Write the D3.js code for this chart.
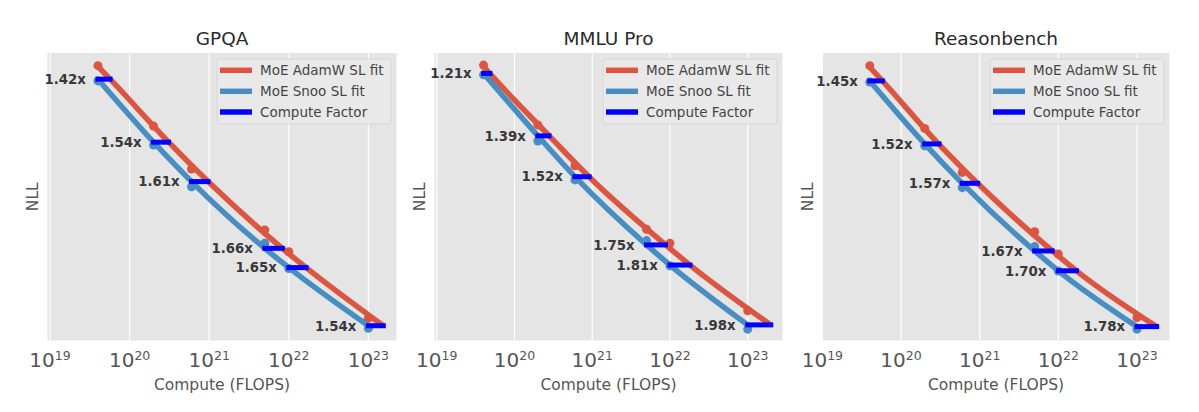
<!DOCTYPE html>
<html>
<head>
<meta charset="utf-8">
<script src="https://cdn.jsdelivr.net/npm/d3@7"></script>
<style>
  body { margin: 0; background: #fff; }
  text { font-family: "DejaVu Sans", sans-serif; }
</style>
</head>
<body>
<div id="chart"></div>
<script>
// values (NLL axis has no labels, so the scale is arbitrary)
const benchmarks = ['GPQA', 'MMLU Pro', 'Reasonbench']
const computeFlops = [4e19, 2e20, 6e20, 5e21, 1e22, 1e23]

const adamwNll = [
  [1.856, 1.646, 1.497, 1.285, 1.209, 0.978],
  [1.858, 1.650, 1.508, 1.287, 1.239, 1.004],
  [1.856, 1.638, 1.485, 1.279, 1.201, 0.980]
]
const snooNll = [
  [1.803, 1.580, 1.435, 1.239, 1.151, 0.943],
  [1.824, 1.594, 1.459, 1.248, 1.160, 0.940],
  [1.799, 1.577, 1.432, 1.227, 1.142, 0.940]
]
// Snoo fit, sampled at the measured compute values
const snooFitNll = [
  [1.809, 1.590, 1.453, 1.221, 1.154, 0.952],
  [1.829, 1.612, 1.470, 1.233, 1.163, 0.955],
  [1.803, 1.584, 1.447, 1.212, 1.143, 0.949]
]
// AdamW fit, sampled where it is crossed by the compute factor bars
const adamwFitCompute = [
  [4e19, 5.7e19, 3.1e20, 9.7e20, 8.3e21, 1.65e22, 1.54e23],
  [4e19, 4.8e19, 2.8e20, 9.1e20, 8.8e21, 1.81e22, 1.98e23],
  [4e19, 5.8e19, 3.0e20, 9.4e20, 8.4e21, 1.7e22, 1.78e23]
]
const adamwFitNll = [
  [1.853, 1.809, 1.590, 1.453, 1.221, 1.154, 0.952],
  [1.853, 1.829, 1.612, 1.470, 1.233, 1.163, 0.955],
  [1.851, 1.803, 1.584, 1.447, 1.212, 1.143, 0.949]
]
const computeFactors = [
  [1.42, 1.54, 1.61, 1.66, 1.65, 1.54],
  [1.21, 1.39, 1.52, 1.75, 1.81, 1.98],
  [1.45, 1.52, 1.57, 1.67, 1.70, 1.78]
]
const xTickExponents = [19, 20, 21, 22, 23]
const legendLabels = ['MoE AdamW SL fit', 'MoE Snoo SL fit', 'Compute Factor']

// layout
const W = 1199
const H = 412
const plotTop = 52.5
const plotBottom = 341
const panels = [
  { left: 47, width: 350, xMin: 18.962, xMax: 23.36 },
  { left: 434, width: 349, xMin: 18.965, xMax: 23.454 },
  { left: 822, width: 348, xMin: 18.995, xMax: 23.42 }
]
const red = '#DC5540'
const blue = '#488EC2'
const barBlue = '#0000FF'

const svg = d3.select('#chart')
  .append('svg')
  .attr('width', W)
  .attr('height', H)

const yScale = d3.scaleLinear()
  .domain([0.9, 1.9])
  .range([340.7, 53])

panels.forEach((p, i) => {
  const g = svg.append('g')
    .attr('transform', 'translate(' + p.left + ',0)')

  const xScale = d3.scaleLog()
    .domain([Math.pow(10, p.xMin), Math.pow(10, p.xMax)])
    .range([0, p.width])

  // background
  g.append('rect')
    .attr('x', 0)
    .attr('y', plotTop)
    .attr('width', p.width)
    .attr('height', plotBottom - plotTop)
    .attr('fill', '#E5E5E5')
    .attr('stroke', '#fff')
    .attr('stroke-width', 1)

  // grid
  g.selectAll('.grid')
    .data(xTickExponents)
    .enter().append('line')
    .attr('class', 'grid')
    .attr('x1', d => xScale(Math.pow(10, d)))
    .attr('x2', d => xScale(Math.pow(10, d)))
    .attr('y1', plotTop)
    .attr('y2', plotBottom)
    .attr('stroke', '#fff')
    .attr('stroke-width', 1.2)

  // tick labels
  const ticks = g.selectAll('.tick')
    .data(xTickExponents)
    .enter().append('text')
    .attr('class', 'tick')
    .attr('x', d => xScale(Math.pow(10, d)))
    .attr('y', 367.3)
    .attr('text-anchor', 'middle')
    .attr('fill', '#555')
    .attr('font-size', 20)
  ticks.append('tspan').text('10')
  ticks.append('tspan')
    .attr('dy', -7)
    .attr('font-size', 12.5)
    .text(d => d)

  // axis labels and title
  g.append('text')
    .attr('x', p.width / 2)
    .attr('y', 390)
    .attr('text-anchor', 'middle')
    .attr('fill', '#555')
    .attr('font-size', 15.5)
    .text('Compute (FLOPS)')

  g.append('text')
    .attr('transform', 'translate(-9,' + (plotTop + plotBottom) / 2 + ') rotate(-90)')
    .attr('text-anchor', 'middle')
    .attr('fill', '#555')
    .attr('font-size', 15.5)
    .text('NLL')

  g.append('text')
    .attr('x', p.width / 2)
    .attr('y', 45)
    .attr('text-anchor', 'middle')
    .attr('fill', '#2a2a2a')
    .attr('font-size', 18.5)
    .text(benchmarks[i])

  // measured points
  g.selectAll('.adamPt')
    .data(computeFlops)
    .enter().append('circle')
    .attr('class', 'adamPt')
    .attr('cx', d => xScale(d))
    .attr('cy', (d, j) => yScale(adamwNll[i][j]))
    .attr('r', 4.5)
    .attr('fill', red)

  g.selectAll('.snooPt')
    .data(computeFlops)
    .enter().append('circle')
    .attr('class', 'snooPt')
    .attr('cx', d => xScale(d))
    .attr('cy', (d, j) => yScale(snooNll[i][j]))
    .attr('r', 4.5)
    .attr('fill', blue)

  // fit lines
  const line = d3.line()
    .x(d => xScale(d[0]))
    .y(d => yScale(d[1]))
    .curve(d3.curveMonotoneX)

  g.append('path')
    .datum(d3.zip(adamwFitCompute[i], adamwFitNll[i]))
    .attr('d', line)
    .attr('fill', 'none')
    .attr('stroke', red)
    .attr('stroke-width', 5.5)

  g.append('path')
    .datum(d3.zip(computeFlops, snooFitNll[i]))
    .attr('d', line)
    .attr('fill', 'none')
    .attr('stroke', blue)
    .attr('stroke-width', 5.5)

  // compute factor bars
  g.selectAll('.bar')
    .data(computeFlops)
    .enter().append('line')
    .attr('class', 'bar')
    .attr('x1', d => xScale(d))
    .attr('x2', (d, j) => xScale(d * computeFactors[i][j]))
    .attr('y1', (d, j) => yScale(snooFitNll[i][j]))
    .attr('y2', (d, j) => yScale(snooFitNll[i][j]))
    .attr('stroke', barBlue)
    .attr('stroke-width', 5)
    .attr('stroke-linecap', 'square')

  g.selectAll('.factor')
    .data(computeFlops)
    .enter().append('text')
    .attr('class', 'factor')
    .attr('x', d => xScale(d) - 12)
    .attr('y', (d, j) => yScale(snooFitNll[i][j]))
    .attr('dy', '0.36em')
    .attr('text-anchor', 'end')
    .attr('fill', '#383838')
    .attr('font-size', 13.3)
    .attr('font-weight', 'bold')
    .text((d, j) => computeFactors[i][j].toFixed(2) + 'x')

  // legend
  const leg = g.append('g')
    .attr('transform', 'translate(' + (p.width - 180) + ',59)')
  leg.append('rect')
    .attr('width', 174)
    .attr('height', 65)
    .attr('rx', 3)
    .attr('fill', '#E9E9E9')
    .attr('stroke', '#D6D6D6')
  const rowY = [11.3, 32.3, 53]
  const rowColor = [red, blue, barBlue]
  legendLabels.forEach((lab, k) => {
    leg.append('line')
      .attr('x1', 3)
      .attr('x2', 35)
      .attr('y1', rowY[k])
      .attr('y2', rowY[k])
      .attr('stroke', rowColor[k])
      .attr('stroke-width', 5.5)
    leg.append('text')
      .attr('x', 43)
      .attr('y', rowY[k])
      .attr('dy', '0.36em')
      .attr('fill', '#444')
      .attr('font-size', 13.5)
      .text(lab)
  })
})
</script>
</body>
</html>
